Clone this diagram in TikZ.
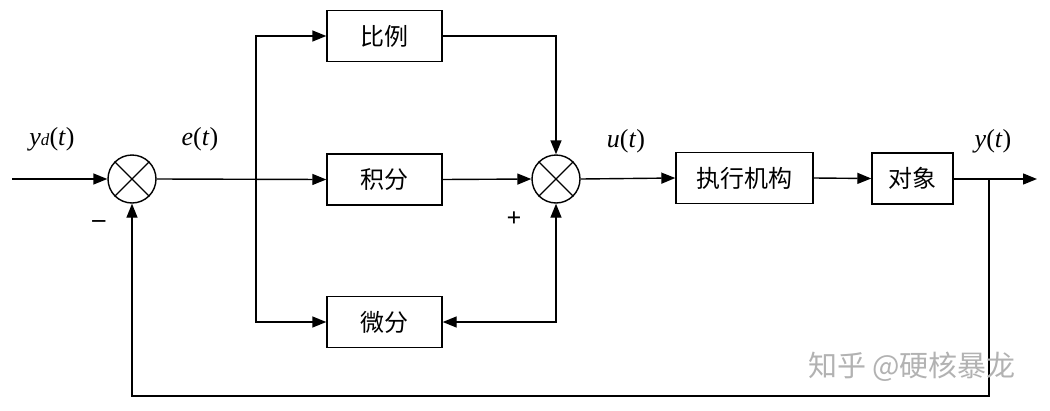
\documentclass[tikz,border=0pt]{standalone}
\usepackage{fontspec}
\setmainfont{Liberation Serif}
\newfontfamily\cjk{Noto Sans CJK SC}
\usetikzlibrary{arrows.meta}
\tikzset{
  blk/.style={draw, line width=1.4pt, minimum height=51pt, inner sep=0pt, font=\cjk\fontsize{24}{27}\selectfont},
  sumj/.style={draw, circle, line width=1.4pt, minimum size=48pt, inner sep=0pt},
  wire/.style={line width=1.4pt},
  arr/.style={wire, -{Triangle[length=14pt,width=11pt]}},
  dbl/.style={wire, {Triangle[length=14pt,width=11pt]}-{Triangle[length=14pt,width=11pt]}},
  lab/.style={font=\fontsize{26}{30}\selectfont},
  sgn/.style={font=\fontsize{26}{30}\selectfont}
}
\begin{document}
\begin{tikzpicture}[x=1pt,y=-1pt]
\useasboundingbox (0,0) rectangle (1050,410);
% summing junctions
\node[sumj] (s1) at (132,179) {};
\draw[wire] (s1.north west) -- (s1.south east) (s1.north east) -- (s1.south west);
\node[sumj] (s2) at (556,179) {};
\draw[wire] (s2.north west) -- (s2.south east) (s2.north east) -- (s2.south west);
% blocks
\node[blk, minimum width=115pt] (bl) at (384.5,36) {比例};
\node[blk, minimum width=115pt] (jf) at (384.5,179.5) {积分};
\node[blk, minimum width=115pt] (wf) at (384.5,322) {微分};
\node[blk, minimum width=137pt] (zx) at (744.5,178) {执行机构};
\node[blk, minimum width=81pt] (dx) at (912.5,178.5) {对象};
% coordinates
\coordinate (in) at (12,179);
\coordinate (bx) at (256,179);
\coordinate (fb) at (989,179);
\coordinate (out) at (1037,179);
\coordinate (bot) at (989,396);
% connectors
\draw[arr] (in) -- (s1.west);
\draw[arr] (s1.east) -- (jf.west);
\draw[arr] (bx) |- (bl.west);
\draw[arr] (bx) |- (wf.west);
\draw[arr] (bl.east) -| (s2.north);
\draw[arr] (jf.east) -- (s2.west);
\draw[dbl] (wf.east) -| (s2.south);
\draw[arr] (s2.east) -- (zx.west);
\draw[arr] (zx.east) -- (dx.west);
\draw[arr] (dx.east |- out) -- (out);
\draw[arr] (fb) -- (bot) -| (s1.south);
% labels
\node[lab] (lyd) at (52,139) {\textit{y}{\fontsize{17}{20}\selectfont\textit{d}}(\textit{t})};
\node[lab] (le) at (200,139) {\textit{e}(\textit{t})};
\node[lab] (lu) at (626,141) {\textit{u}(\textit{t})};
\node[lab] (ly) at (993,141) {\textit{y}(\textit{t})};
\node[sgn] (lm) at (99,224) {\textbf{–}};
\node[sgn] (lp) at (514,219) {\textbf{+}};
\node[font=\cjk\fontsize{29}{32}\selectfont, text=black!30] (wm) at (912,367) {知乎 @硬核暴龙};
\end{tikzpicture}
\end{document}
